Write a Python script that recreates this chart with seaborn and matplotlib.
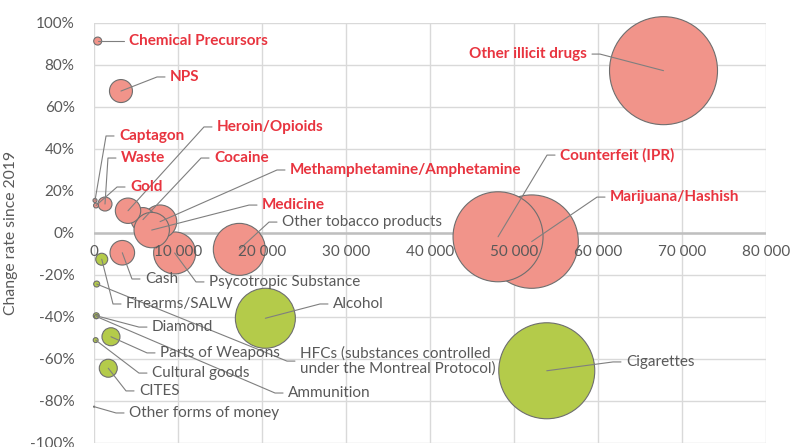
import matplotlib
matplotlib.use("Agg")
import matplotlib.pyplot as plt
import numpy as np
import pandas as pd
import seaborn as sns

# categories in drawing order (first drawn = bottom)
categories = [
    "Marijuana/Hashish", "Counterfeit (IPR)", "Other illicit drugs", "Cigarettes",
    "Alcohol", "Other tobacco products", "Psycotropic Substance",
    "Methamphetamine/Amphetamine", "Cocaine", "Medicine", "Heroin/Opioids",
    "Cash", "NPS", "Waste", "Chemical Precursors", "Gold", "Captagon",
    "Firearms/SALW", "HFCs (substances controlled\nunder the Montreal Protocol)",
    "Diamond", "Ammunition", "Parts of Weapons", "Cultural goods", "CITES",
    "Other forms of money",
]
volume = [52100, 48100, 67800, 53900, 20400, 17300, 9600, 7860, 5830, 6870, 4050,
          3370, 3210, 1310, 440, 240, 120, 920, 320, 270, 300, 2020, 200, 1700, 10]
change = [-4.1, -1.8, 77.3, -65.6, -40.6, -7.8, -9.5, 5.4, 6.4, 1.4, 10.6,
          -9.4, 67.6, 13.8, 91.4, 13.1, 15.5, -12.5, -24.3, -39.4, -39.8, -49.4,
          -51.0, -64.4, -82.7]
bubble = [2180, 2025, 2916, 2304, 900, 676, 441, 279, 144, 313, 161,
          151, 132, 49, 16, 6, 4, 36, 9, 9, 4, 81, 6, 81, 0.3]
group = ["red", "red", "red", "green", "green", "red", "red", "red", "red", "red",
         "red", "red", "red", "red", "red", "red", "red", "green", "green", "green",
         "green", "green", "green", "green", "green"]
highlight = ["Marijuana/Hashish", "Counterfeit (IPR)", "Other illicit drugs",
             "Methamphetamine/Amphetamine", "Cocaine", "Medicine", "Heroin/Opioids",
             "NPS", "Waste", "Chemical Precursors", "Gold", "Captagon"]

x_ticks = [0, 10000, 20000, 30000, 40000, 50000, 60000, 70000, 80000]
y_ticks = [-100, -80, -60, -40, -20, 0, 20, 40, 60, 80, 100]

# label anchor (data coords): left edge of text, except where ha="right"
label_pos = {
    "Chemical Precursors": (4170, 91.4), "NPS": (9050, 74.3),
    "Other illicit drugs": (58690, 85.2), "Captagon": (2980, 46.2),
    "Waste": (3210, 35.7), "Gold": (4290, 21.9), "Heroin/Opioids": (14640, 50.5),
    "Cocaine": (14290, 35.7), "Methamphetamine/Amphetamine": (23330, 30.0),
    "Medicine": (20000, 13.3), "Counterfeit (IPR)": (55480, 37.1),
    "Marijuana/Hashish": (61430, 17.1), "Other tobacco products": (22380, 5.2),
    "Cash": (6070, -21.9), "Psycotropic Substance": (13690, -23.3),
    "Firearms/SALW": (3810, -33.8), "Alcohol": (28450, -33.8),
    "Diamond": (6900, -44.8), "Parts of Weapons": (7860, -57.1),
    "HFCs (substances controlled\nunder the Montreal Protocol)": (24520, -61.0),
    "Cigarettes": (63330, -61.4), "Cultural goods": (6900, -66.7),
    "CITES": (5360, -75.2), "Ammunition": (23100, -76.2),
    "Other forms of money": (4170, -85.7),
}

df = pd.DataFrame({"category": categories, "volume": volume, "change": change,
                   "bubble": bubble, "group": group})

RED_FILL = "#F1948A"
GREEN_FILL = "#B4CB4A"
RED_TEXT = "#E8343F"
GRAY_TEXT = "#595959"

sns.set_style("white")
plt.rcParams["font.family"] = ["Lato", "DejaVu Sans"]
plt.rcParams["axes.unicode_minus"] = False

fig = plt.figure(figsize=(7.96, 4.47), dpi=100)
ax = fig.add_axes([94 / 796, 4 / 447, 672 / 796, 420 / 447])

r_max_px = 54
sizes = (1.44 * r_max_px) ** 2 * df["bubble"] / df["bubble"].max()
sns.scatterplot(data=df, x="volume", y="change", hue="group",
                palette={"red": RED_FILL, "green": GREEN_FILL}, s=sizes,
                edgecolor="#6E6E6E", linewidth=0.8, legend=False, ax=ax,
                clip_on=False, zorder=3)

ax.set_xlim(0, 80000)
ax.set_ylim(-100, 100)
ax.set_xticks(x_ticks)
ax.set_yticks(y_ticks)
ax.set_yticklabels([f"{v}%" for v in y_ticks])
ax.set_xticklabels([])
ax.tick_params(length=0, labelsize=11, labelcolor=GRAY_TEXT, pad=14)
ax.grid(True, color="#D9D9D9", linewidth=1.0)
ax.set_axisbelow(True)
for sp in ax.spines.values():
    sp.set_visible(False)
ax.axhline(0, color="#BFBFBF", linewidth=1.8, zorder=1)

# x tick labels sit just under the zero line, above the bubbles
px_x = 80000 / 672
px_y = 200 / 420
for t in x_ticks:
    txt = "0" if t == 0 else f"{t:,}".replace(",", " ")
    ax.text(t, -12 * px_y, txt, ha="center", va="top", fontsize=11,
            color=GRAY_TEXT, zorder=6)

ax.set_xlabel("")
ax.set_ylabel("Change rate since 2019", fontsize=11.3, color=GRAY_TEXT)
ax.yaxis.set_label_coords(-0.113, 0.5)

# labels with leader lines
for _, row in df.iterrows():
    name = row["category"]
    lx, ly = label_pos[name]
    hot = name in highlight
    ha = "right" if name == "Other illicit drugs" else "left"
    sign = 1 if ha == "left" else -1
    end_x = lx - sign * 5 * px_x
    elbow_x = end_x - sign * 8 * px_x
    ax.plot([row["volume"], elbow_x, end_x], [row["change"], ly, ly],
            color="#7F7F7F", linewidth=0.8, zorder=4, clip_on=False)
    ax.text(lx, ly, name, ha=ha, va="center", fontsize=11,
            color=RED_TEXT if hot else GRAY_TEXT,
            fontweight="bold" if hot else "normal", zorder=5,
            linespacing=1.1)

fig.savefig("out.png", dpi=100)
